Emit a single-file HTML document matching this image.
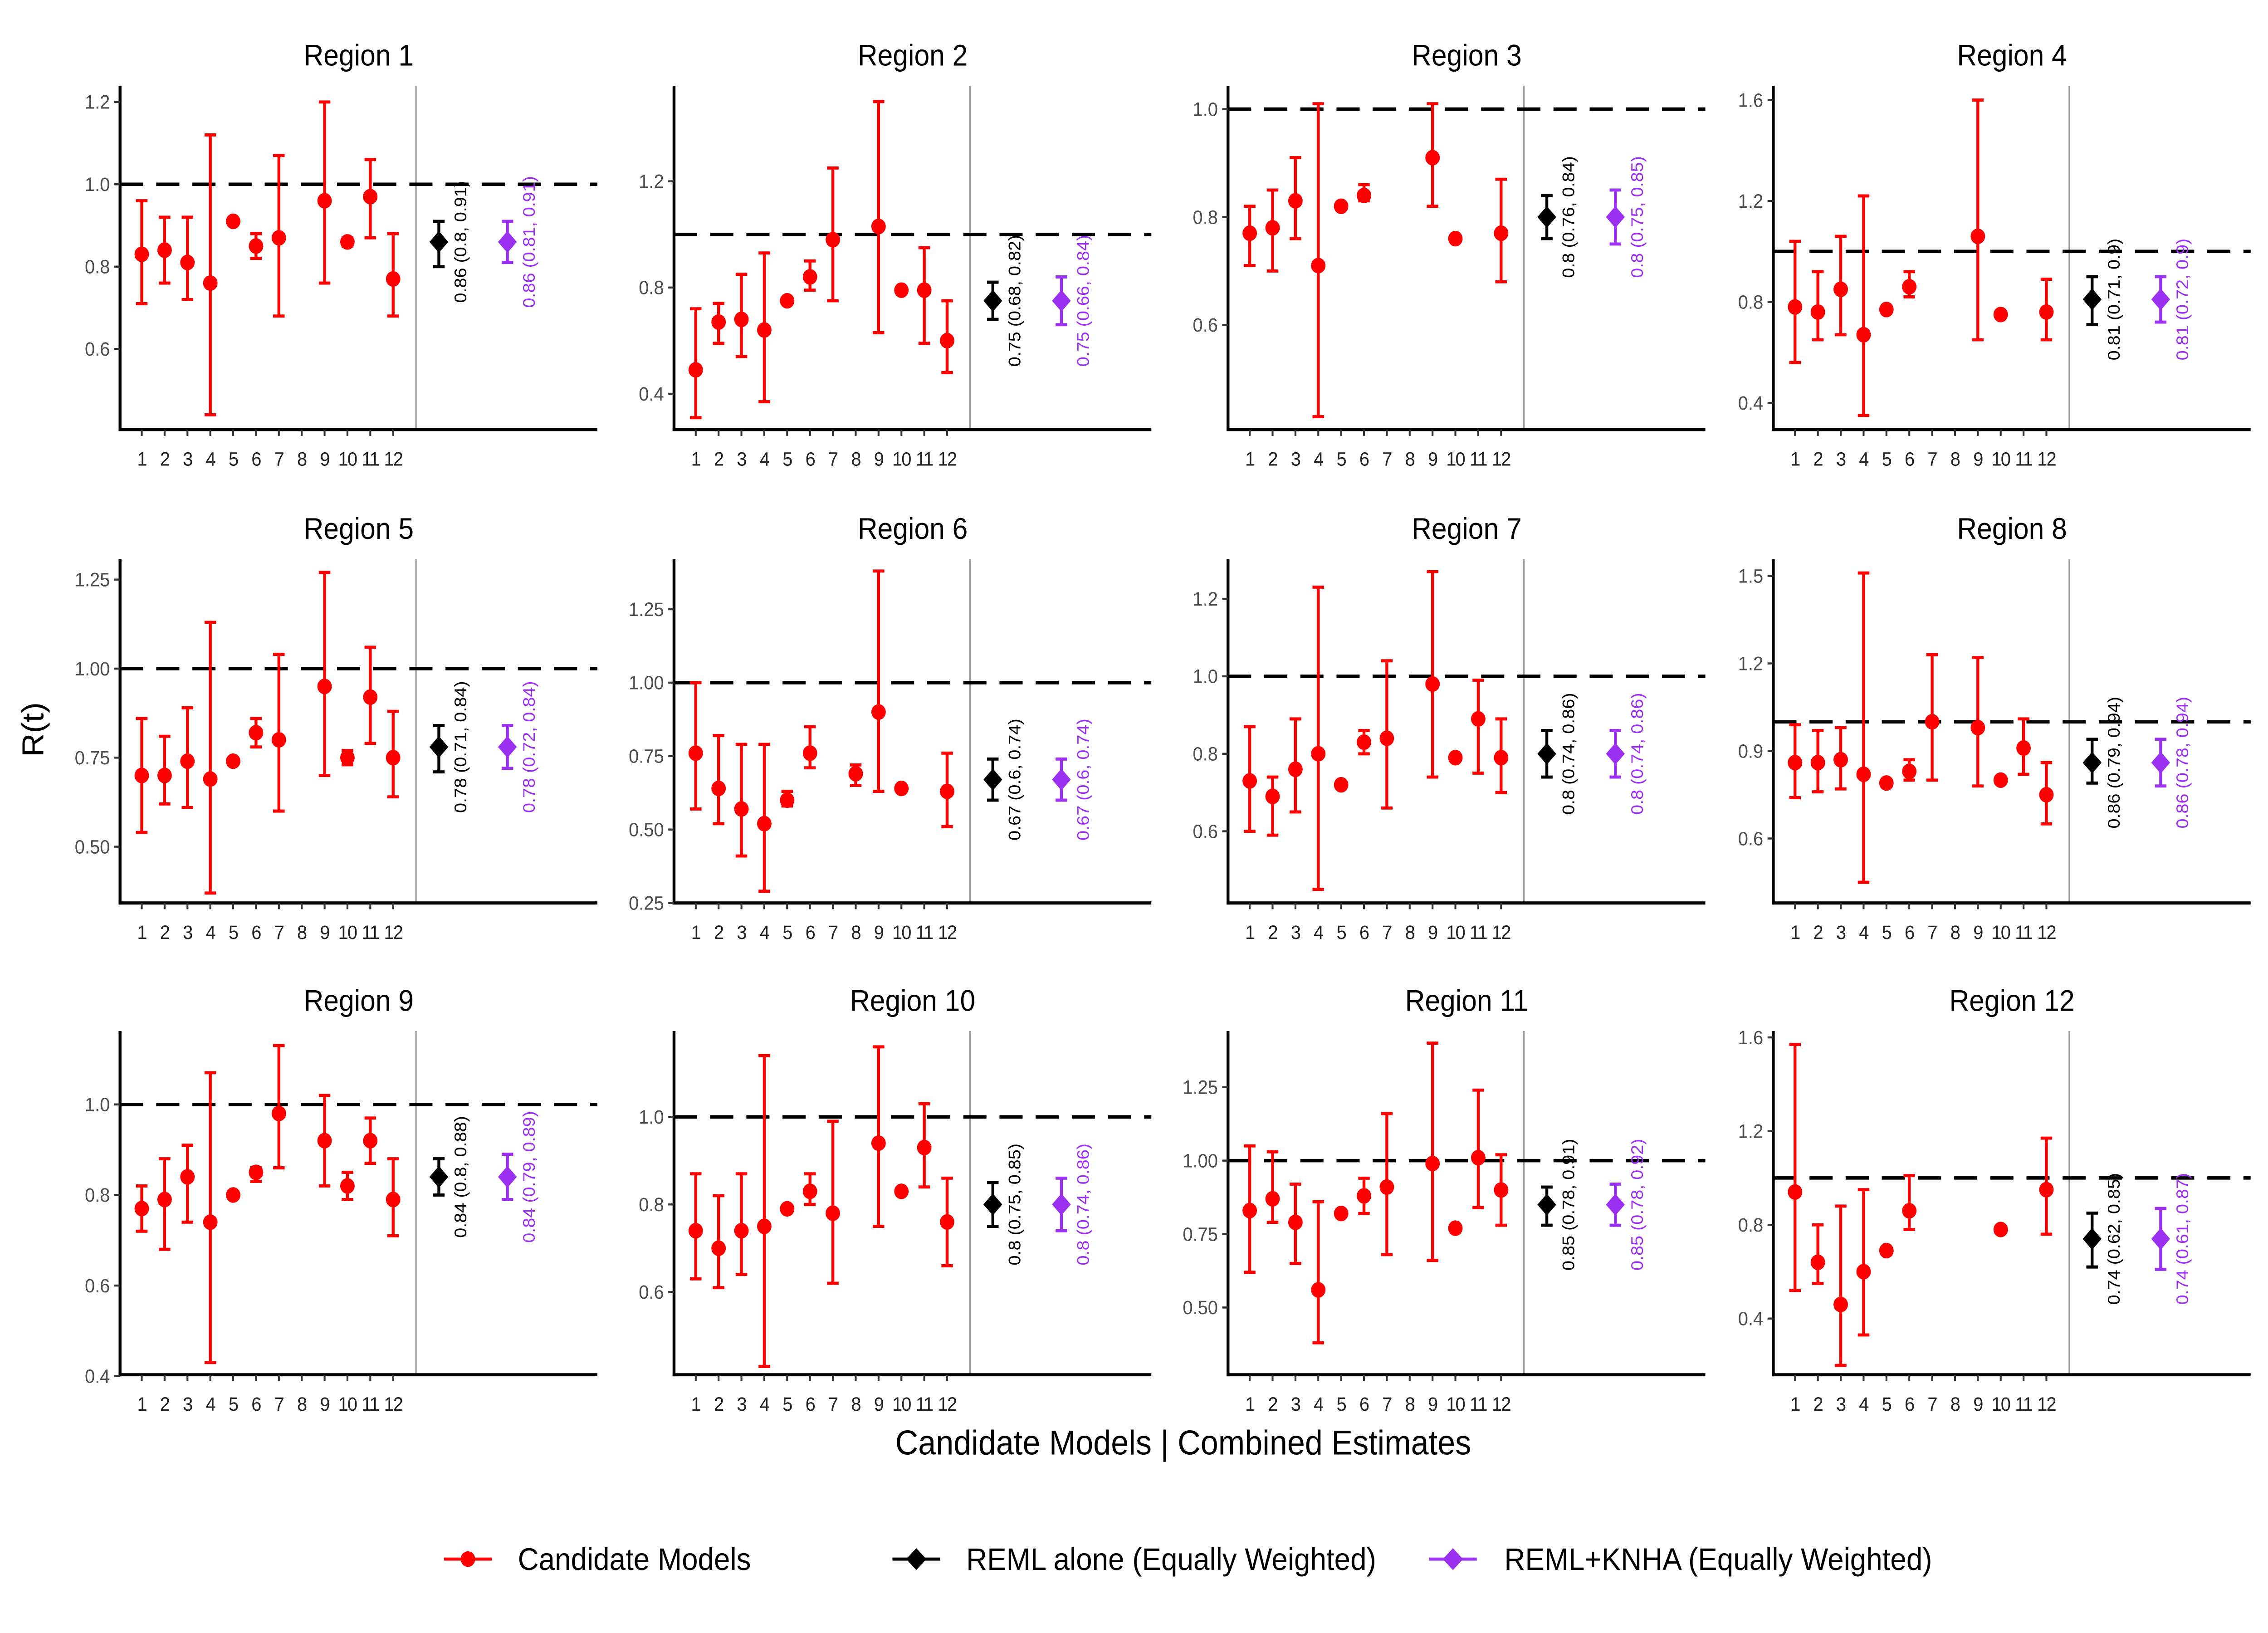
<!DOCTYPE html>
<html><head><meta charset="utf-8">
<style>
html,body{margin:0;padding:0;background:#fff;overflow:hidden;width:100%;height:100%;}
svg{display:block;width:100vw;height:100vh;}
text{font-family:"Liberation Sans",sans-serif;}
</style></head>
<body>
<svg id="chart" xmlns="http://www.w3.org/2000/svg" viewBox="0 0 1568 1045.3" preserveAspectRatio="none">
<rect x="0" y="0" width="1568" height="1046" fill="#fff"/>
<g id="panels"></g>
<text x="0" y="0" transform="translate(30,467) rotate(-90)" font-size="21" text-anchor="middle" fill="#000">R(t)</text>
<text x="818" y="931" font-size="22" text-anchor="middle" fill="#000">Candidate Models | Combined Estimates</text>
<g>
 <g>
  <line x1="307" y1="998" x2="340" y2="998" stroke="#ff0000" stroke-width="2"/>
  <circle cx="323.5" cy="998" r="5" fill="#ff0000"/>
  <text x="358" y="1005" font-size="20" fill="#000">Candidate Models</text>
 </g>
 <g>
  <line x1="617" y1="998" x2="650" y2="998" stroke="#000" stroke-width="2"/>
  <polygon points="633.5,991 640.5,998 633.5,1005 626.5,998" fill="#000"/>
  <text x="668" y="1005" font-size="20" fill="#000">REML alone (Equally Weighted)</text>
 </g>
 <g>
  <line x1="988" y1="998" x2="1021" y2="998" stroke="#9b30f0" stroke-width="2"/>
  <polygon points="1004.5,991 1011.5,998 1004.5,1005 997.5,998" fill="#9b30f0"/>
  <text x="1040" y="1005" font-size="20" fill="#000">REML+KNHA (Equally Weighted)</text>
 </g>
</g>
</svg>
<script>
const regionNames = ["Region 1","Region 2","Region 3","Region 4","Region 5","Region 6","Region 7","Region 8","Region 9","Region 10","Region 11","Region 12"];
const xTickLabels = ["1","2","3","4","5","6","7","8","9","10","11","12"];
const candEst = [
 [0.83,0.84,0.81,0.76,0.91,0.85,0.87,null,0.96,0.86,0.97,0.77],
 [0.49,0.67,0.68,0.64,0.75,0.84,0.98,null,1.03,0.79,0.79,0.60],
 [0.77,0.78,0.83,0.71,0.82,0.84,null,null,0.91,0.76,null,0.77],
 [0.78,0.76,0.85,0.67,0.77,0.86,null,null,1.06,0.75,null,0.76],
 [0.70,0.70,0.74,0.69,0.74,0.82,0.80,null,0.95,0.75,0.92,0.75],
 [0.76,0.64,0.57,0.52,0.60,0.76,null,0.69,0.90,0.64,null,0.63],
 [0.73,0.69,0.76,0.80,0.72,0.83,0.84,null,0.98,0.79,0.89,0.79],
 [0.86,0.86,0.87,0.82,0.79,0.83,1.00,null,0.98,0.80,0.91,0.75],
 [0.77,0.79,0.84,0.74,0.80,0.85,0.98,null,0.92,0.82,0.92,0.79],
 [0.74,0.70,0.74,0.75,0.79,0.83,0.78,null,0.94,0.83,0.93,0.76],
 [0.83,0.87,0.79,0.56,0.82,0.88,0.91,null,0.99,0.77,1.01,0.90],
 [0.94,0.64,0.46,0.60,0.69,0.86,null,null,null,0.78,null,0.95]
];
const candLo = [
 [0.71,0.76,0.72,0.44,null,0.82,0.68,null,0.76,0.85,0.87,0.68],
 [0.31,0.59,0.54,0.37,null,0.79,0.75,null,0.63,null,0.59,0.48],
 [0.71,0.70,0.76,0.43,null,0.83,null,null,0.82,null,null,0.68],
 [0.56,0.65,0.67,0.35,null,0.82,null,null,0.65,null,null,0.65],
 [0.54,0.62,0.61,0.37,null,0.78,0.60,null,0.70,0.73,0.79,0.64],
 [0.57,0.52,0.41,0.29,0.58,0.71,null,0.65,0.63,null,null,0.51],
 [0.60,0.59,0.65,0.45,null,0.80,0.66,null,0.74,null,0.75,0.70],
 [0.74,0.76,0.77,0.45,null,0.80,0.80,null,0.78,null,0.82,0.65],
 [0.72,0.68,0.74,0.43,null,0.83,0.86,null,0.82,0.79,0.87,0.71],
 [0.63,0.61,0.64,0.43,null,0.80,0.62,null,0.75,null,0.84,0.66],
 [0.62,0.79,0.65,0.38,null,0.82,0.68,null,0.66,null,0.84,0.78],
 [0.52,0.55,0.20,0.33,null,0.78,null,null,null,null,null,0.76]
];
const candHi = [
 [0.96,0.92,0.92,1.12,null,0.88,1.07,null,1.20,0.87,1.06,0.88],
 [0.72,0.74,0.85,0.93,null,0.90,1.25,null,1.50,null,0.95,0.75],
 [0.82,0.85,0.91,1.01,null,0.86,null,null,1.01,null,null,0.87],
 [1.04,0.92,1.06,1.22,null,0.92,null,null,1.60,null,null,0.89],
 [0.86,0.81,0.89,1.13,null,0.86,1.04,null,1.27,0.77,1.06,0.88],
 [1.00,0.82,0.79,0.79,0.63,0.85,null,0.72,1.38,null,null,0.76],
 [0.87,0.74,0.89,1.23,null,0.86,1.04,null,1.27,null,0.99,0.89],
 [0.99,0.97,0.98,1.51,null,0.87,1.23,null,1.22,null,1.01,0.86],
 [0.82,0.88,0.91,1.07,null,0.86,1.13,null,1.02,0.85,0.97,0.88],
 [0.87,0.82,0.87,1.14,null,0.87,0.99,null,1.16,null,1.03,0.86],
 [1.05,1.03,0.92,0.86,null,0.94,1.16,null,1.40,null,1.24,1.02],
 [1.57,0.80,0.88,0.95,null,1.01,null,null,null,null,null,1.17]
];
const remlEst = [0.86,0.75,0.80,0.81,0.78,0.67,0.80,0.86,0.84,0.80,0.85,0.74];
const remlLo  = [0.80,0.68,0.76,0.71,0.71,0.60,0.74,0.79,0.80,0.75,0.78,0.62];
const remlHi  = [0.91,0.82,0.84,0.90,0.84,0.74,0.86,0.94,0.88,0.85,0.91,0.85];
const knhaEst = [0.86,0.75,0.80,0.81,0.78,0.67,0.80,0.86,0.84,0.80,0.85,0.74];
const knhaLo  = [0.81,0.66,0.75,0.72,0.72,0.60,0.74,0.78,0.79,0.74,0.78,0.61];
const knhaHi  = [0.91,0.84,0.85,0.90,0.84,0.74,0.86,0.94,0.89,0.86,0.92,0.87];
const yDomains = [
 [0.404,1.239],[0.265,1.559],[0.406,1.043],[0.294,1.656],
 [0.342,1.307],[0.250,1.420],[0.415,1.302],[0.379,1.557],
 [0.403,1.162],[0.411,1.196],[0.271,1.441],[0.160,1.627]
];
const yTicks = [
 [0.6,0.8,1.0,1.2],[0.4,0.8,1.2],[0.6,0.8,1.0],[0.4,0.8,1.2,1.6],
 [0.5,0.75,1.0,1.25],[0.25,0.5,0.75,1.0,1.25],[0.6,0.8,1.0,1.2],[0.6,0.9,1.2,1.5],
 [0.4,0.6,0.8,1.0],[0.6,0.8,1.0],[0.5,0.75,1.0,1.25],[0.4,0.8,1.2,1.6]
];
const yTickLabels = [
 ["0.6","0.8","1.0","1.2"],["0.4","0.8","1.2"],["0.6","0.8","1.0"],["0.4","0.8","1.2","1.6"],
 ["0.50","0.75","1.00","1.25"],["0.25","0.50","0.75","1.00","1.25"],["0.6","0.8","1.0","1.2"],["0.6","0.9","1.2","1.5"],
 ["0.4","0.6","0.8","1.0"],["0.6","0.8","1.0"],["0.50","0.75","1.00","1.25"],["0.4","0.8","1.2","1.6"]
];

const NS = "http://www.w3.org/2000/svg";
const colX = [83,466,849,1226];
const rowY = [55,358,660];
const PW = 330, PH = 220;
const RED = "#ff0000", BLK = "#000000", PUR = "#9b30f0";
const root = document.getElementById("panels");

function mk(tag, attrs, parent){
  const e = document.createElementNS(NS, tag);
  for (const k in attrs) e.setAttribute(k, attrs[k]);
  parent.appendChild(e);
  return e;
}
function fmt(v){ return String(+v.toFixed(2)); }

for (let p = 0; p < 12; p++){
  const c = p % 4, r = Math.floor(p / 4);
  const x0 = colX[c], top = rowY[r], bot = top + PH;
  const dom = yDomains[p];
  const xs = pos => x0 + 15 + (pos - 1) * 15.8;
  const ys = v => bot - (v - dom[0]) / (dom[1] - dom[0]) * PH;
  const g = mk("g", {}, root);
  
  

  const t = mk("text", {x: x0 + 165, y: top - 13, "font-size": 19, "text-anchor": "middle", fill: "#000"}, g);
  
  
  t.textContent = regionNames[p];

  const dv = mk("line", {x1: xs(13), x2: xs(13), y1: top, y2: bot, stroke: "#999", "stroke-width": 1}, g);
  
  
  const rl = mk("line", {x1: x0, x2: x0 + PW, y1: ys(1), y2: ys(1), stroke: "#000", "stroke-width": 2.2, "stroke-dasharray": "16,9"}, g);
  
  

  const ya = mk("line", {x1: x0, x2: x0, y1: top, y2: bot + 1, stroke: "#000", "stroke-width": 2}, g);
  
  
  const xa = mk("line", {x1: x0 - 1, x2: x0 + PW, y1: bot, y2: bot, stroke: "#000", "stroke-width": 2}, g);
  
  

  yTicks[p].forEach((v, i) => {
    const tk = mk("line", {x1: x0 - 4, x2: x0, y1: ys(v), y2: ys(v), stroke: "#333", "stroke-width": 1.3}, g);
    
    
    const tl = mk("text", {x: x0 - 7, y: ys(v) + 4.3, "font-size": 12.5, "text-anchor": "end", fill: "#4d4d4d"}, g);
    
    
    tl.textContent = yTickLabels[p][i];
  });
  xTickLabels.forEach((lab, i) => {
    const xx = xs(i + 1);
    const tk = mk("line", {x1: xx, x2: xx, y1: bot, y2: bot + 4, stroke: "#333", "stroke-width": 1.3}, g);
    
    
    const tl = mk("text", {x: xx, y: bot + 23, "font-size": 12.5, "text-anchor": "middle", fill: "#222", "letter-spacing": "-0.6"}, g);
    
    
    tl.textContent = lab;
  });

  function errbar(pos, lo, hi, col, parent){
    const xx = xs(pos);
    mk("line", {x1: xx, x2: xx, y1: ys(hi), y2: ys(lo), stroke: col, "stroke-width": 2}, parent);
    mk("line", {x1: xx - 4, x2: xx + 4, y1: ys(hi), y2: ys(hi), stroke: col, "stroke-width": 2}, parent);
    mk("line", {x1: xx - 4, x2: xx + 4, y1: ys(lo), y2: ys(lo), stroke: col, "stroke-width": 2}, parent);
  }

  for (let i = 0; i < 12; i++){
    const v = candEst[p][i];
    if (v === null) continue;
    const pg = mk("g", {}, g);
    
    
    if (candLo[p][i] !== null) errbar(i + 1, candLo[p][i], candHi[p][i], RED, pg);
    mk("circle", {cx: xs(i + 1), cy: ys(v), r: 5, fill: RED}, pg);
  }

  const combined = [
    {pos: 14, e: remlEst[p], lo: remlLo[p], hi: remlHi[p], col: BLK, name: 'reml-estimate'},
    {pos: 17, e: knhaEst[p], lo: knhaLo[p], hi: knhaHi[p], col: PUR, name: 'knha-estimate'}
  ];
  combined.forEach(cb => {
    const cg = mk("g", {}, g);
    
    
    errbar(cb.pos, cb.lo, cb.hi, cb.col, cg);
    const cx = xs(cb.pos), cy = ys(cb.e);
    mk("polygon", {points: `${cx},${cy-7} ${cx+6.5},${cy} ${cx},${cy+7} ${cx-6.5},${cy}`, fill: cb.col}, cg);
    const lx = xs(cb.pos + 0.95) + 4;
    const lt = mk("text", {x: 0, y: 0, transform: `translate(${lx},${cy}) rotate(-90)`, "font-size": 11.5, "text-anchor": "middle", fill: cb.col}, cg);
    
    
    lt.textContent = `${fmt(cb.e)} (${fmt(cb.lo)}, ${fmt(cb.hi)})`;
  });
}
</script>
</body></html>
